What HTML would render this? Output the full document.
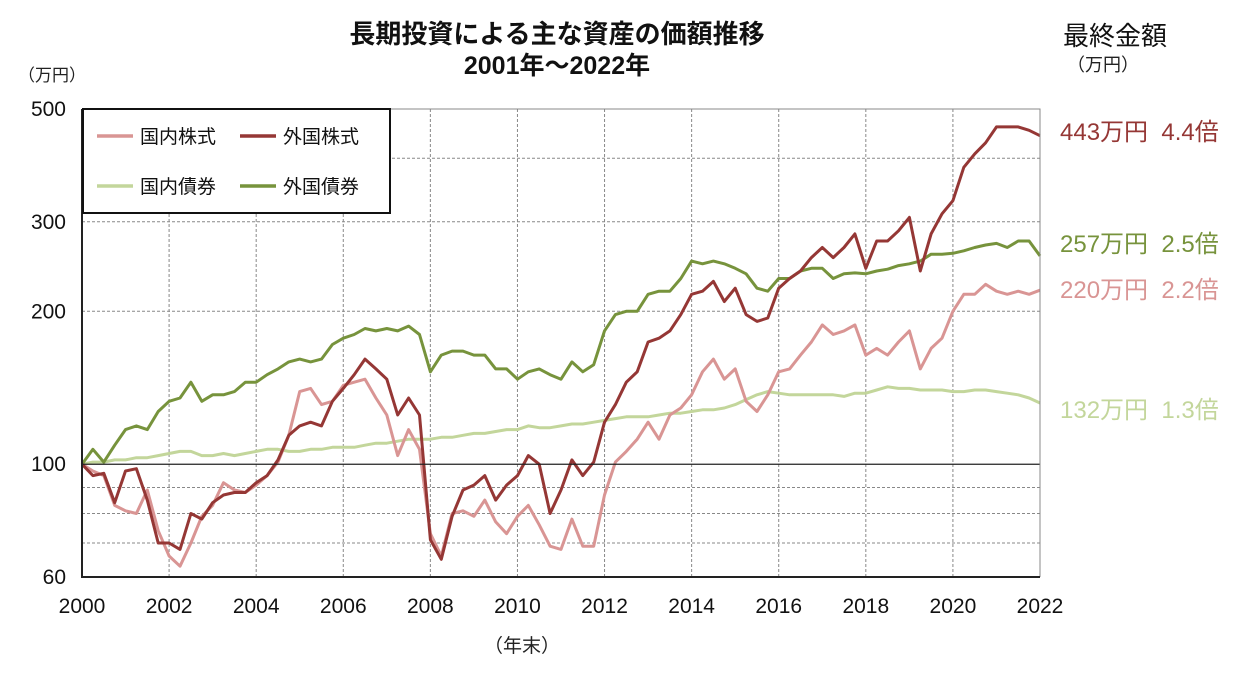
<!DOCTYPE html>
<html><head><meta charset="utf-8"><style>
body{margin:0;background:#fff;width:1251px;height:669px;overflow:hidden;font-family:"Liberation Sans","Noto Sans CJK JP",sans-serif}
svg text{font-family:"Liberation Sans","Noto Sans CJK JP",sans-serif}
</style></head><body>
<svg id="chart" width="1251" height="669" xmlns="http://www.w3.org/2000/svg">
<text x="557" y="43" text-anchor="middle" font-size="26" font-weight="bold" fill="#111">長期投資による主な資産の価額推移</text>
<text x="557" y="74" text-anchor="middle" font-size="25" font-weight="bold" fill="#111">2001年～2022年</text>
<text x="52" y="81" text-anchor="middle" font-size="17" fill="#222">（万円）</text>
<text x="1115" y="45" text-anchor="middle" font-size="26" fill="#111">最終金額</text>
<text x="1103" y="71" text-anchor="middle" font-size="18" fill="#222">（万円）</text>
<text x="522" y="652" text-anchor="middle" font-size="19" fill="#222">（年末）</text>
<g id="grid"></g><g id="series"></g><g id="axes"></g>
<g>
<rect x="83" y="109" width="307" height="104" fill="#fff" stroke="#111" stroke-width="2"/>
<line x1="97" y1="136" x2="133" y2="136" stroke="#d99594" stroke-width="3.5"/>
<text x="140" y="143" font-size="19" fill="#111">国内株式</text>
<line x1="240" y1="136" x2="276" y2="136" stroke="#953735" stroke-width="3.5"/>
<text x="283" y="143" font-size="19" fill="#111">外国株式</text>
<line x1="97" y1="186" x2="133" y2="186" stroke="#c3d69b" stroke-width="3.5"/>
<text x="140" y="193" font-size="19" fill="#111">国内債券</text>
<line x1="240" y1="186" x2="276" y2="186" stroke="#77933c" stroke-width="3.5"/>
<text x="283" y="193" font-size="19" fill="#111">外国債券</text>
</g>
<text x="1060" y="140" font-size="24" fill="#953735" style="white-space:pre" xml:space="preserve">443万円  4.4倍</text>
<text x="1060" y="252" font-size="24" fill="#77933c" style="white-space:pre" xml:space="preserve">257万円  2.5倍</text>
<text x="1060" y="298" font-size="24" fill="#d99594" style="white-space:pre" xml:space="preserve">220万円  2.2倍</text>
<text x="1060" y="418" font-size="24" fill="#c3d69b" style="white-space:pre" xml:space="preserve">132万円  1.3倍</text>
</svg>
<script>
const startYear=2000, endYear=2022;
const xTicks=[2000,2002,2004,2006,2008,2010,2012,2014,2016,2018,2020,2022];
const yTicks=[60,100,200,300,500];
const yGrid=[70,80,90,200,300,400];
const foreignStock=[100,95,96,84,97,98,85,70,70,68,80,78,84,87,88,88,92,95,102,114,119,121,119,133,141,150,161,154,147,125,135,125,71,65,79,89,91,95,85,91,95,104,100,80,89,102,95,101,121,131,145,152,174,177,183,197,216,219,229,209,222,197,191,194,222,232,240,255,267,255,267,284,243,275,275,288,306,240,284,311,330,384,408,429,461,461,461,454,443];
const domesticStock=[100,97,95,83,81,80,89,74,66,63,70,79,83,92,89,88,91,95,101,114,139,141,131,133,143,145,147,135,125,104,117,107,73,66,80,81,79,85,77,73,79,83,76,69,68,78,69,69,87,101,106,112,121,112,125,129,137,152,161,147,154,133,127,137,152,154,164,174,188,180,183,188,164,169,164,174,183,154,169,177,200,216,216,226,219,216,219,216,220];
const foreignBond=[100,107,101,109,117,119,117,127,133,135,145,133,137,137,139,145,145,150,154,159,161,159,161,172,177,180,185,183,185,183,187,180,152,164,167,167,164,164,154,154,147,152,154,150,147,159,152,157,183,197,200,200,216,219,219,232,251,248,251,248,243,237,222,219,232,232,240,243,243,232,237,238,237,240,242,246,248,251,259,259,260,263,267,270,272,267,275,275,257];
const domesticBond=[100,101,101,102,102,103,103,104,105,106,106,104,104,105,104,105,106,107,107,106,106,107,107,108,108,108,109,110,110,111,112,112,112,113,113,114,115,115,116,117,117,119,118,118,119,120,120,121,122,123,124,124,124,125,126,126,127,128,128,129,131,134,137,139,138,137,137,137,137,137,136,138,138,140,142,141,141,140,140,140,139,139,140,140,139,138,137,135,132];
const L=82,R=1040,T=109,B=577,yMin=60,yMax=500;
function xs(t){return L+(t-startYear)/(endYear-startYear)*(R-L);}
function ys(v){return B-(Math.log(v)-Math.log(yMin))/(Math.log(yMax)-Math.log(yMin))*(B-T);}
const NS='http://www.w3.org/2000/svg';
function mk(tag,attrs,parent){const e=document.createElementNS(NS,tag);for(const k in attrs)e.setAttribute(k,attrs[k]);parent.appendChild(e);return e;}
const grid=document.getElementById('grid'),axes=document.getElementById('axes'),ser=document.getElementById('series');
yGrid.forEach(v=>{const l=mk('line',{x1:L,x2:R,y1:ys(v),y2:ys(v),stroke:'#888','stroke-width':1,'stroke-dasharray':'3,2'},grid);

});
xTicks.forEach(t=>{if(t>startYear&&t<endYear){const l=mk('line',{x1:xs(t),x2:xs(t),y1:T,y2:B,stroke:'#888','stroke-width':1,'stroke-dasharray':'3,2'},grid);

}
const tx=mk('text',{x:xs(t),y:B+36,'text-anchor':'middle','font-size':21,fill:'#111'},axes);tx.textContent=t;

});
yTicks.forEach(v=>{const tx=mk('text',{x:66,y:ys(v)+7,'text-anchor':'end','font-size':21,fill:'#111'},axes);tx.textContent=v;

});
const base=mk('line',{x1:L,x2:R,y1:ys(100),y2:ys(100),stroke:'#222','stroke-width':1.2},axes);


const frame=mk('path',{d:`M${L},${T}H${R}V${B}`,fill:'none',stroke:'#888','stroke-width':1},axes);


const ax=mk('path',{d:`M${L},${T}V${B}H${R}`,fill:'none',stroke:'#222','stroke-width':2},axes);


function draw(arr,color,name){const n=arr.length;let d='';arr.forEach((v,i)=>{const t=startYear+i*(endYear-startYear)/(n-1);d+=(i?'L':'M')+xs(t).toFixed(1)+','+ys(v).toFixed(1);});
const p=mk('path',{d:d,fill:'none',stroke:color,'stroke-width':3,'stroke-linejoin':'round'},ser);

}
draw(domesticBond,'#c3d69b','line-domestic-bond');
draw(foreignBond,'#77933c','line-foreign-bond');
draw(domesticStock,'#d99594','line-domestic-stock');
draw(foreignStock,'#953735','line-foreign-stock');
</script>
</body></html>
